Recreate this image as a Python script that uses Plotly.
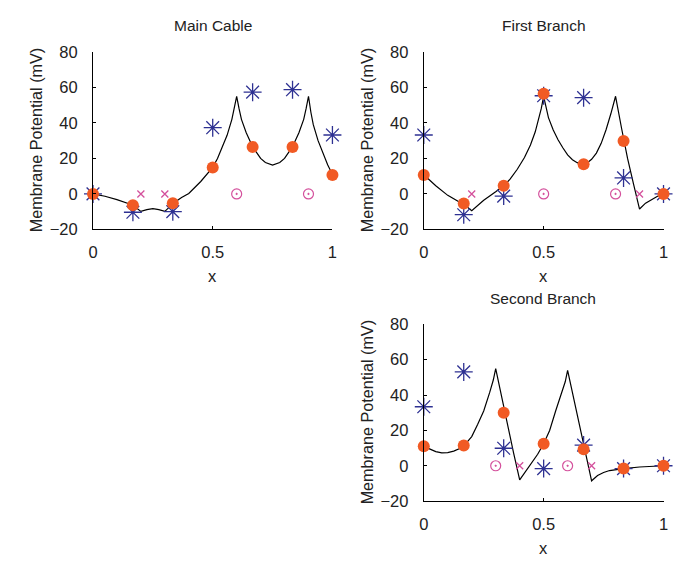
import plotly.graph_objects as go

# Sample positions along each cable segment (normalised length)
X_SAMPLE = [0, 1/6, 1/3, 1/2, 2/3, 5/6, 1]

# ---- Main cable ----
main_curve_x = [0, 0.05, 0.1, 0.15, 0.175, 0.2, 0.225, 0.25, 0.275, 0.3, 0.32, 0.34, 0.37,
                0.4, 0.45, 0.5, 0.52, 0.54, 0.56, 0.58, 0.59, 0.6, 0.61, 0.62, 0.64, 0.66,
                0.68, 0.7, 0.72, 0.75, 0.78, 0.8, 0.82, 0.84, 0.86, 0.88, 0.89, 0.9, 0.91,
                0.92, 0.94, 0.96, 0.98, 1.0]
main_curve_y = [0, -1.3, -3.2, -5.5, -7.2, -9.8, -8.8, -8.3, -8.8, -9.8, -7.3, -4.8, -2.0,
                0.3, 7, 15, 20, 26, 33, 42, 48, 55, 48, 42, 34.5, 28.5,
                24, 20, 17.7, 16.3, 17.7, 20, 24, 28.5, 34.5, 42, 48, 55, 46,
                39, 30, 23, 16.5, 11]
main_star = [0, -10.3, -10, 37.3, 57.3, 58.7, 33.2]
main_dot = [0, -6.3, -5.2, 14.9, 26.5, 26.5, 10.7]
main_inhib_x = [0.2, 0.3]
main_excit_x = [0.6, 0.9]

# ---- First branch ----
first_curve_x = [0, 0.05, 0.1, 0.15, 0.175, 0.2, 0.25, 0.3, 0.333, 0.36, 0.39, 0.42, 0.445,
                 0.465, 0.48, 0.49, 0.5, 0.51, 0.52, 0.54, 0.56, 0.58, 0.6, 0.62, 0.64, 0.66,
                 0.68, 0.7, 0.72, 0.74, 0.76, 0.78, 0.79, 0.8, 0.825, 0.85, 0.875, 0.9,
                 0.925, 0.95, 0.975, 1.0]
first_curve_y = [10.8, 4.6, -0.8, -4.8, -6.7, -9.5, -3.6, 1.2, 4.6, 8.3, 13.9, 20.5, 27.6,
                 35, 42, 48, 55, 48, 43, 36, 30.5, 26, 22, 19.3, 17.6, 16.7,
                 17.3, 19.5, 23, 28.5, 36, 45, 50, 55, 37, 20, 5.5, -8.5,
                 -5.2, -3, -1.3, 0]
first_star = [33.2, -11.7, -1.2, 55.3, 54.2, 9, 0]
first_dot = [10.7, -5.4, 4.6, 56.4, 16.7, 29.8, 0]
first_inhib_x = [0.2, 0.9]
first_excit_x = [0.5, 0.8]

# ---- Second branch ----
second_curve_x = [0, 0.025, 0.05, 0.075, 0.1, 0.125, 0.15, 0.167, 0.2, 0.225, 0.25, 0.275,
                  0.29, 0.3, 0.325, 0.35, 0.375, 0.4, 0.425, 0.45, 0.475, 0.5, 0.525, 0.55,
                  0.575, 0.59, 0.6, 0.625, 0.65, 0.675, 0.7, 0.725, 0.75, 0.775, 0.8,
                  0.833, 0.9, 0.95, 1.0]
second_curve_y = [11, 9.3, 8, 7.3, 7.4, 8.3, 9.8, 11.3, 16.5, 23.5, 31, 41.5,
                  48.5, 55, 38.5, 22.5, 7, -8, -3.2, 1.5, 6.5, 12.5, 20, 31,
                  41, 47.5, 54, 38, 22.5, 7, -8.5, -5.5, -3.8, -2.7, -2.1,
                  -1.6, -0.7, -0.3, 0]
second_star = [33.4, 53.1, 9.9, -1.6, 11.7, -1.6, 0]
second_dot = [11.1, 11.5, 30, 12.4, 9.3, -1.6, 0]
second_inhib_x = [0.4, 0.7]
second_excit_x = [0.3, 0.6]

Y_TICKS = [-20, 0, 20, 40, 60, 80]
Y_TICK_TEXT = ["\u221220", "0", "20", "40", "60", "80"]
X_TICKS = [0, 0.5, 1]
X_TICK_TEXT = ["0", "0.5", "1"]

ORANGE = "#f15a24"
NAVY = "#2e3192"
MAGENTA = "#d4509c"
FONT = "Arial, Liberation Sans, sans-serif"
TXT = "#222222"

W, H = 683, 566

fig = go.Figure()

panels = [
    ("x", "y", main_curve_x, main_curve_y, main_star, main_dot, main_inhib_x, main_excit_x),
    ("x2", "y2", first_curve_x, first_curve_y, first_star, first_dot, first_inhib_x, first_excit_x),
    ("x3", "y3", second_curve_x, second_curve_y, second_star, second_dot, second_inhib_x, second_excit_x),
]

for xa, ya, cx, cy, star, dot, inhib, excit in panels:
    fig.add_trace(go.Scatter(x=cx, y=cy, mode="lines", xaxis=xa, yaxis=ya,
                             line=dict(color="black", width=1.2), showlegend=False,
                             cliponaxis=False))
    fig.add_trace(go.Scatter(x=inhib, y=[0] * len(inhib), mode="markers", xaxis=xa, yaxis=ya,
                             marker=dict(symbol="x-thin-open", size=7, color=MAGENTA,
                                         line=dict(color=MAGENTA, width=1.3)),
                             showlegend=False, cliponaxis=False))
    fig.add_trace(go.Scatter(x=excit, y=[0] * len(excit), mode="markers", xaxis=xa, yaxis=ya,
                             marker=dict(symbol="circle-open-dot", size=10, color=MAGENTA,
                                         line=dict(color=MAGENTA, width=1.2)),
                             showlegend=False, cliponaxis=False))
    fig.add_trace(go.Scatter(x=X_SAMPLE, y=star, mode="markers", xaxis=xa, yaxis=ya,
                             marker=dict(symbol="asterisk-open", size=15, color=NAVY,
                                         line=dict(color=NAVY, width=1.3)),
                             showlegend=False, cliponaxis=False))
    fig.add_trace(go.Scatter(x=X_SAMPLE, y=dot, mode="markers", xaxis=xa, yaxis=ya,
                             marker=dict(symbol="circle", size=12, color=ORANGE,
                                         line=dict(width=0)),
                             showlegend=False, cliponaxis=False))


def px_dom(a, b):
    return [a / W, b / W]


def py_dom(top, bottom):
    return [1 - bottom / H, 1 - top / H]


axis_common = dict(showgrid=False, zeroline=False, showline=True, linecolor="black",
                   linewidth=1, ticks="inside", ticklen=3, tickcolor="black",
                   tickfont=dict(family=FONT, size=16.5, color=TXT), mirror=False)

x_dom_left = px_dom(89.3, 332.3)
x_dom_right = px_dom(425, 668.3)
y_dom_top = py_dom(44.3, 227.7)
y_dom_bot = py_dom(325.7, 508.3)

for suffix, xd, yd in [("", x_dom_left, y_dom_top), ("2", x_dom_right, y_dom_top),
                       ("3", x_dom_right, y_dom_bot)]:
    yname = "y" + suffix
    xname = "x" + suffix
    fig.update_layout(**{
        "xaxis" + suffix: dict(domain=xd, anchor=yname, range=[0, 1], tickvals=X_TICKS,
                               ticktext=X_TICK_TEXT, ticklabelstandoff=8, **axis_common),
        "yaxis" + suffix: dict(domain=yd, anchor=xname, range=[-20, 80], tickvals=Y_TICKS,
                               ticktext=Y_TICK_TEXT, ticklabelstandoff=11, **axis_common),
    })

annots = []
titles = [("Main Cable", 210.8, 17), ("First Branch", 546.7, 17), ("Second Branch", 546.5, 299)]
for text, cxp, cyp in titles:
    annots.append(dict(text=text, x=cxp / W, y=1 - cyp / H, xref="paper", yref="paper",
                       showarrow=False, xanchor="center", yanchor="middle",
                       font=dict(family=FONT, size=15.5, color=TXT)))
for cxp, cyp in [(210.8, 276), (546.7, 276), (546.5, 557)]:
    annots.append(dict(text="x", x=cxp / W, y=1 - cyp / H, xref="paper", yref="paper",
                       showarrow=False, xanchor="center", yanchor="middle",
                       font=dict(family=FONT, size=16.5, color=TXT)))
for cxp, cyp in [(31, 136), (367, 136), (367, 417)]:
    annots.append(dict(text="Membrane Potential (mV)", x=cxp / W, y=1 - cyp / H,
                       xref="paper", yref="paper", showarrow=False, textangle=-90,
                       xanchor="center", yanchor="middle",
                       font=dict(family=FONT, size=16.2, color=TXT)))

fig.update_layout(width=W, height=H, margin=dict(l=0, r=0, t=0, b=0),
                  paper_bgcolor="white", plot_bgcolor="white", annotations=annots)

fig.write_html("out.html")
